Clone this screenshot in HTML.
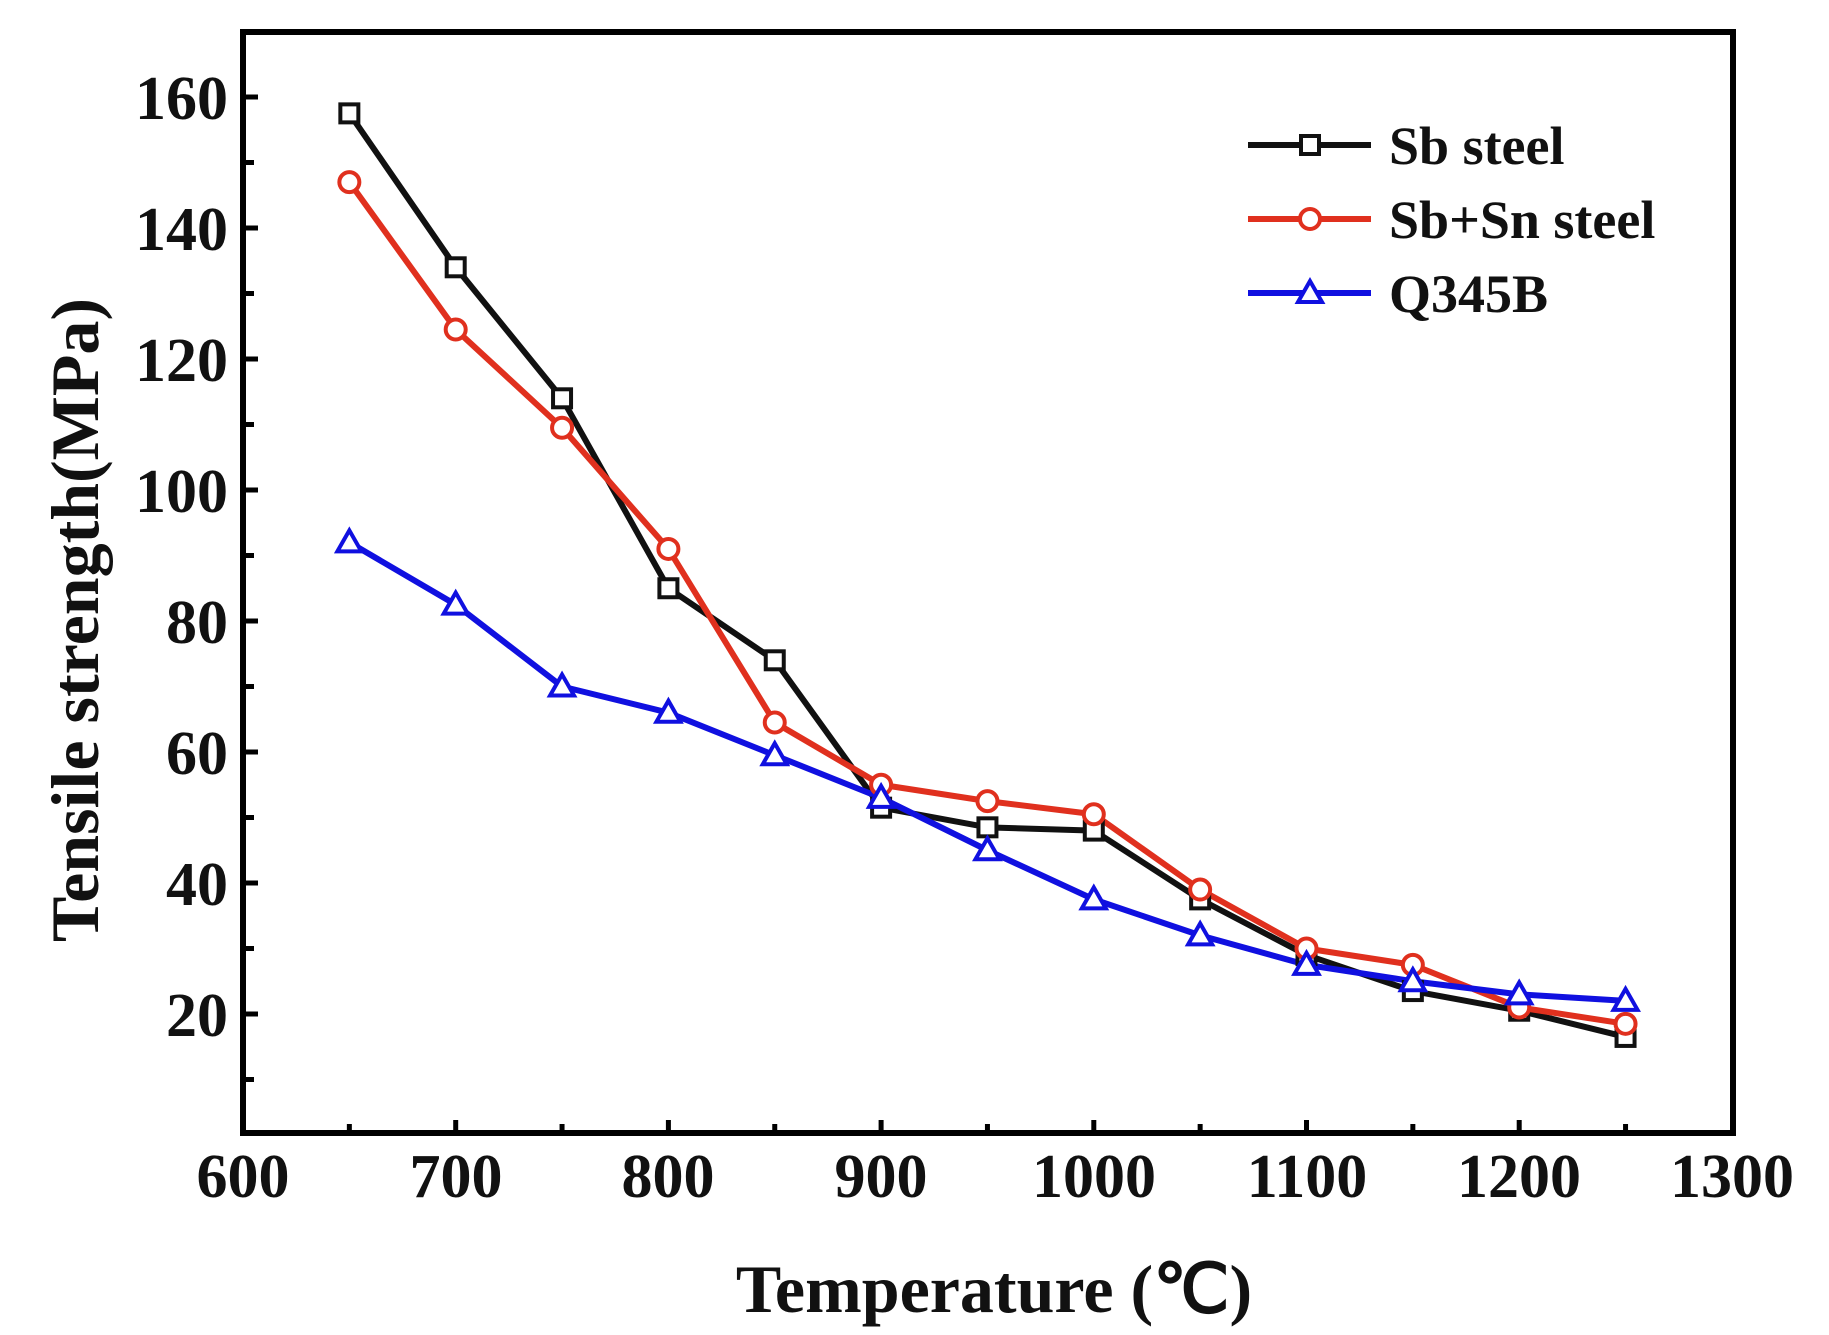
<!DOCTYPE html>
<html><head><meta charset="utf-8"><style>
html,body{margin:0;padding:0;background:#fff;}
svg{display:block;}
text{font-family:"Liberation Serif",serif;font-weight:bold;fill:#111;}
</style></head><body>
<svg id="s" width="1829" height="1335" viewBox="0 0 1829 1335" xmlns="http://www.w3.org/2000/svg">
<rect x="243" y="32" width="1490" height="1101" fill="none" stroke="#000" stroke-width="6"/>
<g id="ticks" stroke="#000" stroke-width="5"></g>
<g font-size="62" text-anchor="end">
<text x="228" y="119">160</text><text x="228" y="250">140</text><text x="228" y="381">120</text>
<text x="228" y="512">100</text><text x="228" y="643">80</text><text x="228" y="774">60</text>
<text x="228" y="905">40</text><text x="228" y="1036">20</text>
</g>
<g font-size="62" text-anchor="middle">
<text x="243" y="1197">600</text><text x="456" y="1197">700</text><text x="668" y="1197">800</text>
<text x="881" y="1197">900</text><text x="1094" y="1197">1000</text><text x="1307" y="1197">1100</text>
<text x="1519" y="1197">1200</text><text x="1732" y="1197">1300</text>
</g>
<text x="994" y="1312" font-size="68" text-anchor="middle">Temperature (℃)</text>
<text transform="translate(98,620) rotate(-90)" font-size="68" text-anchor="middle">Tensile strength(MPa)</text>
<g id="series"></g>
<g font-size="54">
<text x="1389" y="164">Sb steel</text>
<text x="1389" y="238">Sb+Sn steel</text>
<text x="1389" y="312">Q345B</text>
</g>
</svg>
<script>
var NS="http://www.w3.org/2000/svg";
function X(t){return 243+(t-600)*2.127;}
function Y(v){return 97+(160-v)*6.55;}
function el(n,a,p){var e=document.createElementNS(NS,n);for(var k in a)e.setAttribute(k,a[k]);p.appendChild(e);return e;}
var tk=document.getElementById('ticks');
for(var t=650;t<1300;t+=50){var x=X(t);el('line',{x1:x,y1:1133,x2:x,y2:t%100==0?1120:1124},tk);}
for(var v=10;v<=170;v+=10){var y=Y(v);if(y<35)continue;el('line',{x1:243,y1:y,x2:v%20==0?258:254,y2:y},tk);}
var T=[650,700,750,800,850,900,950,1000,1050,1100,1150,1200,1250];
var S=[
 {c:'#111',m:'s',d:[157.5,134,114,85,74,51.5,48.5,48,37.5,29,23.5,20.5,16.5],ly:145},
 {c:'#e0301e',m:'c',d:[147,124.5,109.5,91,64.5,55,52.5,50.5,39,30,27.5,21,18.5],ly:219},
 {c:'#1010e0',m:'t',d:[92,82.5,70,66,59.5,53,45,37.5,32,27.5,25,23,22],ly:293}];
var g=document.getElementById('series');
function mk(s,x,y){
 if(s.m=='s')el('rect',{x:x-9,y:y-9,width:18,height:18,fill:'#fff',stroke:s.c,'stroke-width':4},g);
 else if(s.m=='c')el('circle',{cx:x,cy:y,r:10,fill:'#fff',stroke:s.c,'stroke-width':4},g);
 else el('polygon',{points:(x)+','+(y-12)+' '+(x-12)+','+(y+9)+' '+(x+12)+','+(y+9),fill:'#fff',stroke:s.c,'stroke-width':4},g);
}
S.forEach(function(s){
 var p=s.d.map(function(v,i){return X(T[i])+','+Y(v);}).join(' ');
 el('polyline',{points:p,fill:'none',stroke:s.c,'stroke-width':6,'stroke-linejoin':'round'},g);
});
S.forEach(function(s){
 s.d.forEach(function(v,i){mk(s,X(T[i]),Y(v));});
 el('line',{x1:1248,y1:s.ly,x2:1371,y2:s.ly,stroke:s.c,'stroke-width':6},g);
 mk(s,1310,s.ly);
});
</script>
</body></html>
